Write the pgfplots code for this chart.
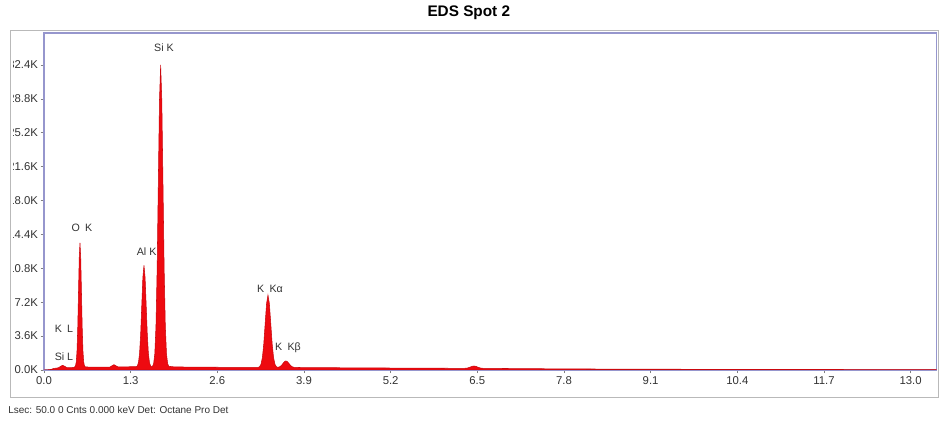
\documentclass[border=0pt]{standalone}
\usepackage{fontspec}
\setmainfont{Liberation Sans}
\usepackage{pgfplots}
\pgfplotsset{compat=1.18}
\definecolor{axisblue}{RGB}{150,150,205}
\definecolor{framegray}{RGB}{185,185,185}
\definecolor{specred}{RGB}{238,10,16}
\definecolor{lbl}{RGB}{50,50,50}
\begin{document}
\begin{tikzpicture}
\path (0pt,0pt) rectangle (704.25pt,319.5pt);
\begin{axis}[
  at={(33pt,42pt)}, anchor=south west,
  scale only axis,
  width=669.75pt, height=252.75pt,
  xmin=0, xmax=13.39, ymin=0, ymax=35800,
  axis line style={draw=axisblue, line width=1.2pt},
  tick style={draw=gray, line width=0.5pt},
  major tick length=2.5pt,
  tick align=outside, tick pos=left,
  xtick={0,1.3,2.6,3.9,5.2,6.5,7.8,9.1,10.4,11.7,13},
  xticklabels={0.0,1.3,2.6,3.9,5.2,6.5,7.8,9.1,10.4,11.7,13.0},
  ytick={0,3600,7200,10800,14400,18000,21600,25200,28800,32400},
  yticklabels={0.0K,3.6K,7.2K,10.8K,14.4K,18.0K,21.6K,25.2K,28.8K,32.4K},
  scaled ticks=false,
  /pgf/number format/assume math mode=true,
  ticklabel style={font=\fontsize{8.5}{10}\selectfont, text=lbl},
  xticklabel style={yshift=1pt},
  yticklabel style={xshift=1.5pt},
]
\addplot[fill=specred, draw=specred!85!black, line width=0.4pt] coordinates {
(0,0) (0.05,0) (0.1,40) (0.15,150) (0.2,200) (0.22,230) (0.25,380) (0.28,480) (0.31,380) (0.34,250) (0.38,220) (0.42,240) (0.45,260)
(0.463,329) (0.474,447) (0.485,879) (0.496,2086) (0.507,4586) (0.518,8306) (0.529,11949) (0.54,13500) (0.551,11949) (0.562,8306) (0.573,4586) (0.584,2086) (0.595,879) (0.606,447) (0.617,329)
(0.66,300) (0.75,290) (0.85,300) (0.95,300) (0.99,300) (1.02,430) (1.05,550) (1.08,430) (1.11,310) (1.2,320) (1.3,330) (1.37,330)
(1.3845,330) (1.401,420) (1.4175,774) (1.434,1761) (1.4505,3807) (1.467,6850) (1.4835,9831) (1.50,11100) (1.5165,9831) (1.533,6850) (1.5495,3807) (1.566,1761) (1.5825,774) (1.599,420) (1.6155,330)
(1.6275,371) (1.645,656) (1.6625,1710) (1.68,4640) (1.6975,10720) (1.715,19770) (1.7325,28630) (1.75,32400) (1.7675,28630) (1.785,19770) (1.8025,10720) (1.82,4640) (1.8375,1710) (1.855,656) (1.8725,371)
(1.95,320) (2.1,300) (2.3,290) (2.5,280) (2.7,270) (2.9,260) (3.1,260) (3.2,255)
(3.213,267) (3.234,335) (3.255,588) (3.276,1292) (3.297,2750) (3.318,4920) (3.339,7045) (3.36,7950) (3.381,7045) (3.402,4920) (3.423,2750) (3.444,1292) (3.465,588) (3.486,335) (3.507,270)
(3.5175,281) (3.54,345) (3.5625,477) (3.585,675) (3.6075,868) (3.63,950) (3.6525,868) (3.675,675) (3.6975,477) (3.72,345) (3.7425,281) (3.765,258)
(3.9,240) (4.2,230) (4.6,215) (5.0,200) (5.5,185) (6.0,170) (6.3,160) (6.35,190) (6.39,280) (6.42,370) (6.45,410) (6.48,370) (6.51,280) (6.55,190) (6.6,155) (7.0,140) (7.5,115) (8.0,95) (9.0,70) (10,55) (11,45) (12,35) (13.39,30)
} \closedcycle;
\begin{scope}[every node/.style={font=\fontsize{8}{9.6}\selectfont, text=lbl, inner sep=0pt}]
\node at (axis cs:1.80,34200) {Si K};
\node at (axis cs:0.57,15100) {O\enspace K};
\node at (axis cs:1.54,12600) {Al K};
\node at (axis cs:3.39,8600) {K\enspace Kα};
\node at (axis cs:3.66,2300) {K\enspace Kβ};
\node at (axis cs:0.30,4350) {K\enspace L};
\node at (axis cs:0.30,1380) {Si L};
\end{scope}
\end{axis}
% clip the left of the tick labels as in the original frame
\fill[white] (0pt,30pt) rectangle (9.75pt,296.25pt);
\draw[framegray, line width=0.6pt] (7.5pt,21pt) rectangle (704.25pt,297pt);
\node[font=\fontsize{11.5}{13}\selectfont\bfseries, text=black] at (351.75pt,309.75pt) {EDS Spot 2};
\node[font=\fontsize{7.5}{9}\selectfont, text=lbl, anchor=west, inner sep=0pt] at (6pt,12pt) {Lsec: 50.0 0 Cnts 0.000 keV Det: Octane Pro Det};
\end{tikzpicture}
\end{document}
